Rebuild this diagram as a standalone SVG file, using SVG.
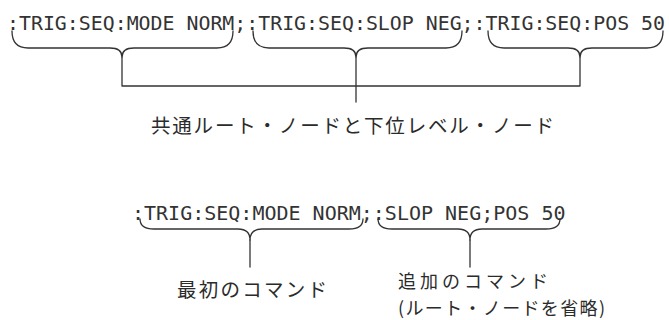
<svg xmlns="http://www.w3.org/2000/svg" width="669" height="320" viewBox="0 0 669 320">
<style>
.mono{font-family:"DejaVu Sans Mono","Liberation Mono",monospace;font-size:20px;fill:#333}
.jp{font-family:"Noto Sans CJK JP","Noto Sans",sans-serif;font-size:19.5px;fill:#2b2b2b}
.jps{font-size:18px}
.ln{fill:none;stroke:#333;stroke-width:1.3;stroke-linecap:round;stroke-linejoin:round}
</style>
<rect width="669" height="320" fill="#fff"/>
<g id="cmd1">
<text class="mono" x="7" y="30" textLength="658" lengthAdjust="spacingAndGlyphs">:TRIG:SEQ:MODE NORM;:TRIG:SEQ:SLOP NEG;:TRIG:SEQ:POS 50</text>
</g>
<g id="label1">
<text class="jp" x="151" y="133" textLength="403" lengthAdjust="spacing">共通ルート・ノードと下位レベル・ノード</text>
</g>
<g id="cmd2">
<text class="mono" x="132" y="220">:TRIG:SEQ:MODE NORM;:SLOP NEG;POS 50</text>
</g>
<g id="label2">
<text class="jp" x="177" y="297" textLength="150" lengthAdjust="spacing">最初のコマンド</text>
</g>
<g id="label3">
<text class="jp jps" x="398" y="288" textLength="150" lengthAdjust="spacing">追加のコマンド</text>
<text class="jp jps" x="398" y="315" textLength="207" lengthAdjust="spacing">(ルート・ノードを省略)</text>
</g>
<g id="connectors">
<path class="ln" d="M12 31 Q12 48 28 48 H110 Q122 48 122 57 Q122 48 134 48 H217 Q233 48 233 31"/>
<path class="ln" d="M253 31 Q253 48 269 48 H344 Q356 48 356 57 Q356 48 368 48 H446 Q462 48 462 31"/>
<path class="ln" d="M488 31 Q488 48 504 48 H568 Q580 48 580 57 Q580 48 592 48 H647 Q663 48 663 31"/>
<path class="ln" d="M122 57 V86 H580 V57"/>
<path class="ln" d="M356 57 V102"/>
<path class="ln" d="M140 219 Q140 229 154 229 H238 Q250 229 250 240 Q250 229 262 229 H349 Q363 229 363 219"/>
<path class="ln" d="M378 219 Q378 229 392 229 H458 Q470 229 470 240 Q470 229 482 229 H546 Q560 229 560 219"/>
<path class="ln" d="M250 240 V267"/>
<path class="ln" d="M470 240 V267"/>
</g>
</svg>
